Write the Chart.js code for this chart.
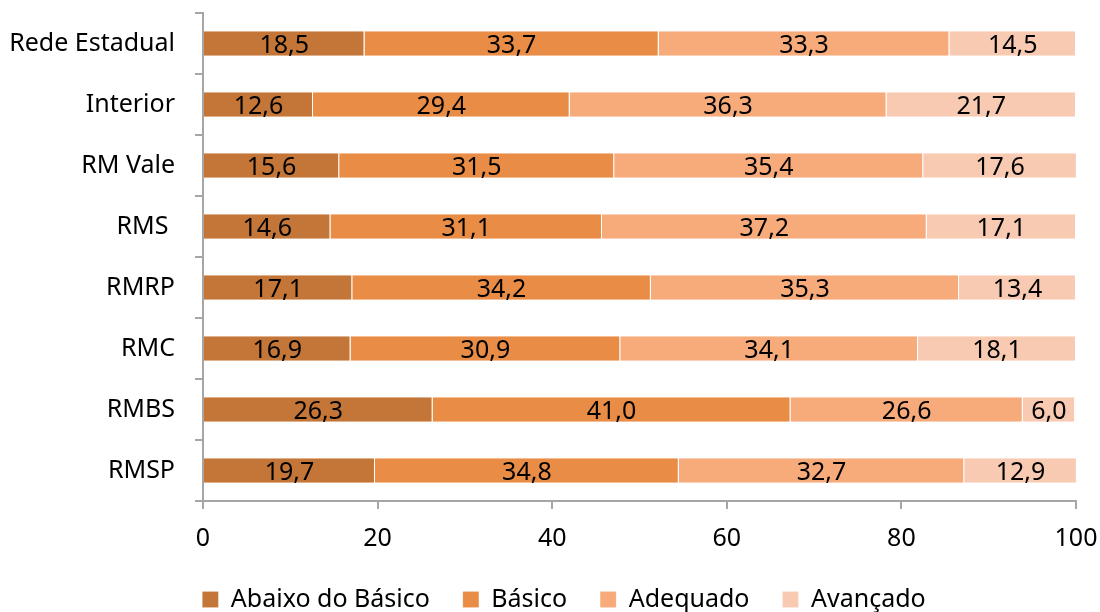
<!DOCTYPE html>
<html>
<head>
<meta charset="utf-8">
<script src="https://cdn.jsdelivr.net/npm/chart.js@4"></script>
<style>
  html, body { margin: 0; padding: 0; background: #fff; overflow: hidden; }
  /* a bit taller than the window so the legend sits low, cut like the original */
  #wrap { width: 1100px; height: 622px; }
</style>
</head>
<body>
<div id="wrap"><canvas id="chart"></canvas></div>
<script>
const regioes = ["Rede Estadual", "Interior", "RM Vale", "RMS ", "RMRP", "RMC", "RMBS", "RMSP"];
const abaixoBasico = [18.5, 12.6, 15.6, 14.6, 17.1, 16.9, 26.3, 19.7];
const basico = [33.7, 29.4, 31.5, 31.1, 34.2, 30.9, 41.0, 34.8];
const adequado = [33.3, 36.3, 35.4, 37.2, 35.3, 34.1, 26.6, 32.7];
const avancado = [14.5, 21.7, 17.6, 17.1, 13.4, 18.1, 6.0, 12.9];
const xTicks = [0, 20, 40, 60, 80, 100];

const FONT = "'Noto Sans', 'Open Sans', sans-serif";
const SIZE = 25;
const AXIS = "#A6A6A6";
const PAD_LEFT = 52; // pushes the legend a little to the right

function fmt(v) {
  return v.toFixed(1).replace(".", ",");
}

// draws the value in the middle of each segment
const segmentLabels = {
  id: "segmentLabels",
  afterLayout(chart) {
    // let the long category names use the padding area too (labels are clipped to the scale box)
    chart.scales.y.left = 0;
  },
  afterDatasetsDraw(chart) {
    const ctx = chart.ctx;
    ctx.save();
    ctx.font = `${SIZE}px ${FONT}`;
    ctx.fillStyle = "#000";
    ctx.textAlign = "center";
    ctx.textBaseline = "middle";
    chart.data.datasets.forEach((ds, i) => {
      chart.getDatasetMeta(i).data.forEach((bar, j) => {
        const p = bar.getProps(["x", "y", "base"], true);
        ctx.fillText(fmt(ds.data[j]), (p.x + p.base) / 2, p.y + 2);
      });
    });
    ctx.restore();
  },
};

function dataset(label, data, color) {
  return {
    label,
    data,
    backgroundColor: color,
    borderColor: "rgba(255,255,255,0.6)",
    borderWidth: { right: 1 },
    borderSkipped: false,
    barPercentage: 0.4,
    categoryPercentage: 1,
  };
}

new Chart(document.getElementById("chart"), {
  type: "bar",
  data: {
    labels: regioes,
    datasets: [
      dataset("Abaixo do Básico", abaixoBasico, "#C47638"),
      dataset("Básico", basico, "#E98C45"),
      dataset("Adequado", adequado, "#F7AB7A"),
      dataset("Avançado", avancado, "#F9CAB2"),
    ],
  },
  options: {
    indexAxis: "y",
    responsive: true,
    maintainAspectRatio: false,
    animation: false,
    layout: { padding: { top: 13, right: 24, left: PAD_LEFT, bottom: 0 } },
    plugins: {
      tooltip: { enabled: false },
      legend: {
        position: "bottom",
        labels: {
          color: "#000",
          font: { family: FONT, size: SIZE },
          boxWidth: 16,
          boxHeight: 16,
          padding: 33,
        },
      },
    },
    scales: {
      x: {
        stacked: true,
        min: 0,
        max: 100,
        afterBuildTicks: (s) => { s.ticks = xTicks.map((v) => ({ value: v })); },
        ticks: { color: "#000", font: { family: FONT, size: SIZE }, padding: 15 },
        grid: { drawOnChartArea: false, color: AXIS, lineWidth: 2, tickLength: 8 },
        border: { color: AXIS, width: 2 },
        afterFit: (s) => { s.height = 53; s.paddingLeft = 0; s.paddingRight = 0; },
      },
      y: {
        stacked: true,
        ticks: { color: "#000", font: { family: FONT, size: SIZE }, padding: 20 },
        grid: { offset: true, drawOnChartArea: false, color: AXIS, lineWidth: 2, tickLength: 8 },
        border: { color: AXIS, width: 2 },
        afterFit: (s) => { s.width = 203 - PAD_LEFT; s.paddingTop = 0; s.paddingBottom = 0; },
      },
    },
  },
  plugins: [segmentLabels],
});
</script>
</body>
</html>
